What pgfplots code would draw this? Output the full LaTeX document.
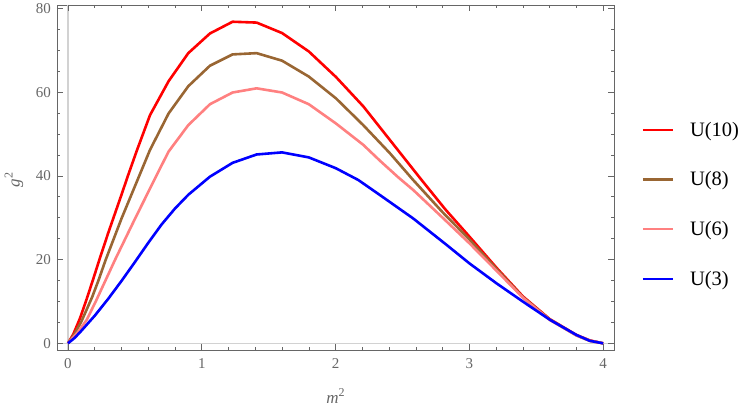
\documentclass[border=0pt]{standalone}
\usepackage{fontspec}
\setmainfont{Liberation Serif}
\usepackage{pgfplots}
\pgfplotsset{compat=1.18}
\definecolor{mred}{rgb}{1,0,0}
\definecolor{mbrown}{rgb}{0.6,0.4,0.2}
\definecolor{mpink}{rgb}{1,0.5,0.5}
\definecolor{mblue}{rgb}{0,0,1}
\definecolor{framegray}{gray}{0.4}
\newcommand{\sq}[1]{\textit{#1}\raisebox{0.42em}{\fontsize{12}{13}\selectfont 2}}
\begin{document}
\begin{tikzpicture}
\begin{axis}[name=ax, scale only axis, width=557pt, height=345pt,
  xmin=-0.0822, xmax=4.081, ymin=-1.6, ymax=80.8,
  xtick={0,1,2,3,4}, ytick={0,20,40,60,80},
  minor x tick num=4, minor y tick num=3,
  tick align=inside, major tick length=6pt, minor tick length=3.5pt,
  axis line style={framegray, line width=0.8pt},
  every tick/.style={framegray, line width=0.6pt},
  /pgf/number format/assume math mode=true,
  tick label style={text=framegray, font=\fontsize{15}{17}\selectfont},
  yticklabel style={inner sep=0pt, xshift=-6pt},
  xticklabel style={inner sep=0pt, yshift=-8pt},
  extra x ticks={0}, extra y ticks={0},
  extra x tick labels={}, extra y tick labels={},
  extra tick style={grid=major, major grid style={color=gray!35, line width=1.2pt}},
  xlabel={\sq{m}}, ylabel={\sq{g}},
  label style={text=framegray, font=\fontsize{17}{19}\selectfont},
  xlabel style={at={(axis description cs:0.5,-0.1333)}, anchor=center},
  ylabel style={at={(axis description cs:-0.0772,0.493)}, anchor=center},
  legend style={at={(axis description cs:1.0497,0.422)}, anchor=west, draw=none, fill=none,
    inner sep=0pt, font=\fontsize{20.5}{22}\selectfont, row sep=30pt, column sep=14pt},
  legend cell align=left,
  legend image code/.code={\draw[#1, line width=2.2pt] (0pt,0pt) -- (30pt,0pt);},
  every axis plot/.append style={line width=2.6pt, line join=round},
]
\addplot[mred] coordinates {(0,0)(0.04,2.2)(0.09,6.0)(0.14,10.6)(0.19,15.5)(0.24,20.5)(0.3,26.3)(0.4,35.5)(0.45,40.2)(0.513,45.9)(0.613,54.5)(0.752,62.6)(0.899,69.3)(1.061,74.0)(1.23,76.8)(1.41,76.6)(1.6,74.1)(1.8,69.7)(2.003,63.6)(2.207,56.6)(2.41,48.4)(2.643,39.0)(2.82,32.0)(3.0,25.5)(3.204,18.0)(3.4,11.2)(3.6,5.8)(3.8,2.0)(3.9,0.7)(4,0)};
\addlegendentry{U(10)}
\addplot[mbrown] coordinates {(0,0)(0.05,2.3)(0.1,5.2)(0.18,11)(0.2275,15.0)(0.28,19.8)(0.4,29.8)(0.5325,40)(0.613,46.2)(0.752,54.9)(0.899,61.4)(1.061,66.3)(1.23,69.0)(1.41,69.3)(1.6,67.5)(1.8,63.7)(2.003,58.5)(2.207,52.1)(2.406,45.4)(2.58,39.0)(2.8,31.3)(3.0,24.8)(3.204,17.7)(3.4,11.0)(3.6,5.7)(3.8,1.9)(3.9,0.6)(4,0)};
\addlegendentry{U(8)}
\addplot[mpink] coordinates {(0,0)(0.07,2.5)(0.14,5.6)(0.2075,10)(0.28,15)(0.3525,20)(0.5,29.7)(0.66,40)(0.752,45.8)(0.899,52.1)(1.061,57.1)(1.23,59.9)(1.41,60.9)(1.6,59.9)(1.8,57.1)(2.003,52.5)(2.207,47.4)(2.332,43.6)(2.47,39.6)(2.581,36.6)(2.8,30.0)(3.0,23.9)(3.204,17.3)(3.4,10.9)(3.6,5.6)(3.8,1.9)(3.9,0.6)(4,0)};
\addlegendentry{U(6)}
\addplot[mblue] coordinates {(0,0)(0.05,1.3)(0.1,3.0)(0.2,6.6)(0.3,10.6)(0.4,14.9)(0.5,19.4)(0.6,24.0)(0.7,28.4)(0.8,32.2)(0.9,35.5)(1.061,39.8)(1.23,43.1)(1.41,45.1)(1.6,45.6)(1.8,44.4)(2.003,41.8)(2.17,39.0)(2.332,35.4)(2.581,29.8)(2.83,23.5)(3.0,19.1)(3.204,14.3)(3.403,9.9)(3.603,5.6)(3.8,2.0)(3.9,0.6)(4,0)};
\addlegendentry{U(3)}
\end{axis}
\pgfresetboundingbox
\path ([xshift=-57pt,yshift=-60pt]ax.south west) rectangle ([xshift=133pt,yshift=5pt]ax.north east);
\end{tikzpicture}
\end{document}
